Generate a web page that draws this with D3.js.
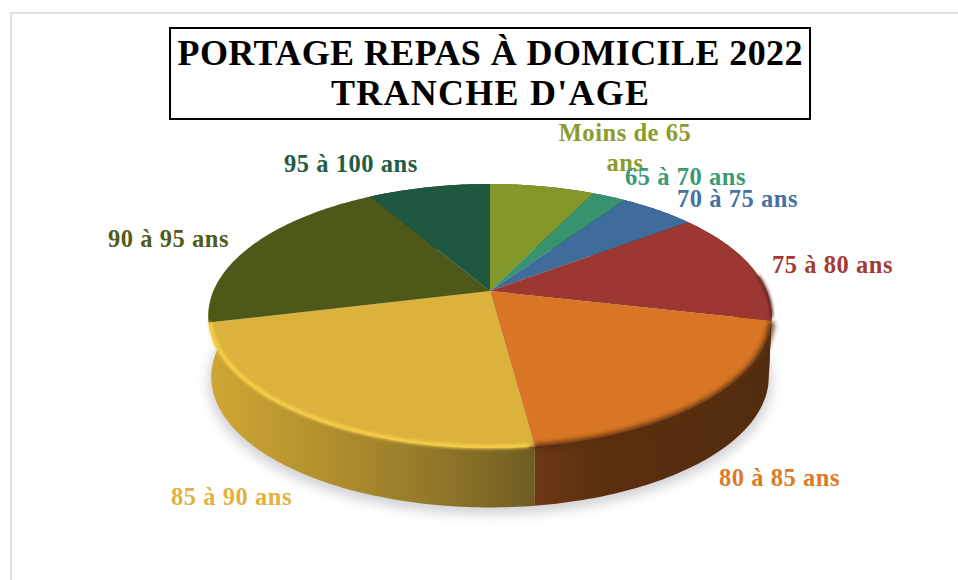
<!DOCTYPE html>
<html>
<head>
<meta charset="utf-8">
<script src="https://cdn.jsdelivr.net/npm/d3@7"></script>
<style>
  html, body { margin: 0; padding: 0; background: #fff; }
  text { font-family: "Liberation Serif", serif; font-weight: bold; }
  .title { font-size: 36px; fill: #000; text-anchor: middle; }
  .label { font-size: 24.5px; letter-spacing: 0.55px; }
</style>
</head>
<body>
<svg id="chart" width="958" height="580"></svg>
<script>
// tranches d'age, parts (%)
var categories = ['Moins de 65 ans', '65 à 70 ans', '70 à 75 ans', '75 à 80 ans', '80 à 85 ans', '85 à 90 ans', '90 à 95 ans', '95 à 100 ans'];
var shares = [7.2, 2.3, 5.2, 13.9, 19.3, 23.3, 20.4, 8.4];
var titleLines = ['PORTAGE REPAS À DOMICILE 2022', "TRANCHE D'AGE"];

var titleWidths = [625, 318];
var sliceColors = ['#84972a', '#36936e', '#3f6d9b', '#9c3831', '#d87625', '#dab23c', '#4e5818', '#1f5840'];
var labelColors = ['#8a9c2d', '#3a9a75', '#4472a1', '#a33b33', '#dc7a28', '#e0b33f', '#525c1a', '#225c44'];
// left x, baseline y of each label
var labelSpots = [[625, 141], [625, 185], [677, 207], [772, 273], [719, 486], [171, 505], [108, 247], [284, 172]];

var svg = d3.select('#chart');
var defs = svg.append('defs');

// perspective of the disc
var cx = 490, cy = 291, A = 276.6, B = 127.2, k = 0.189;
var depth = 61.5, shrink = 0.99;
var rad = Math.PI / 180;

function project(angle, r, drop){
    var u = r * Math.sin(angle),
        v = -r * Math.cos(angle),
        w = 1 - k * v;
    return [cx + A * u / w, cy + B * v / w + drop];
}

function arcPoints(a0, a1, r, drop){
    var n = Math.max(2, Math.ceil((a1 - a0) * 60));
    return d3.range(n + 1).map(function(i){
        return project(a0 + (a1 - a0) * i / n, r, drop);
    });
}

var line = d3.line();
var slices = d3.pie().sort(null)(shares);

// filters
function blur(id, amount){
    defs.append('filter').attr('id', id)
        .attr('x', '-20%').attr('y', '-20%').attr('width', '140%').attr('height', '140%')
        .append('feGaussianBlur').attr('stdDeviation', amount);
}
blur('soft', 6);
blur('bevelLight', 1.5);
blur('bevelDark', 2.4);

// wall gradients, only the yellow and the orange really show
function wallGradient(id, x1, x2, stops){
    var g = defs.append('linearGradient').attr('id', id)
        .attr('gradientUnits', 'userSpaceOnUse')
        .attr('x1', x1).attr('x2', x2).attr('y1', 0).attr('y2', 0);
    stops.forEach(function(s){
        g.append('stop').attr('offset', s[0]).attr('stop-color', s[1]);
    });
}
wallGradient('wall5', 210, 535, [[0, '#cfa733'], [0.35, '#b3902e'], [0.7, '#917729'], [1, '#6f5c23']]);
wallGradient('wall4', 535, 770, [[0, '#6e3813'], [0.3, '#5a2f10'], [1, '#532c0f']]);

// frame of the pasted picture
svg.append('path')
    .attr('d', 'M11,580V13H958')
    .attr('fill', 'none')
    .attr('stroke', '#e0e0e0')
    .attr('stroke-width', 2);

// shadow under the disc
svg.append('path')
    .attr('d', line(arcPoints(0, 2 * Math.PI, 1, depth + 5)) + 'Z')
    .attr('fill', '#d2d2d6')
    .attr('filter', 'url(#soft)');

// walls: the yellow one wraps round the left edge, the olive one stays hidden
svg.selectAll('path.wall')
    .data(slices)
    .enter().append('path')
    .attr('class', 'wall')
    .attr('d', function(d, i){
        var end = i == 5 ? d.endAngle + 15 * rad : d.endAngle;
        if(i == 6) return null;
        var top = arcPoints(d.startAngle, end, 1, 0),
            bottom = arcPoints(d.startAngle, end, shrink, depth).reverse();
        return line(top.concat(bottom)) + 'Z';
    })
    .attr('fill', function(d, i){
        if(i == 4) return 'url(#wall4)';
        if(i == 5) return 'url(#wall5)';
        return d3.color(sliceColors[i]).darker(1.6);
    });

// top of the disc
svg.selectAll('path.slice')
    .data(slices)
    .enter().append('path')
    .attr('class', 'slice')
    .attr('d', function(d){
        return line([[cx, cy]].concat(arcPoints(d.startAngle, d.endAngle, 1, 0))) + 'Z';
    })
    .attr('fill', function(d, i){ return sliceColors[i]; });

// rounded rim, blurred stroke on the front edge
// red
svg.append('path')
    .attr('d', line(arcPoints(slices[3].endAngle - 20 * rad, slices[3].endAngle - 1.5 * rad, 1, 0)))
    .attr('fill', 'none')
    .attr('stroke', '#4a1c1a')
    .attr('stroke-width', 2.5)
    .attr('filter', 'url(#bevelLight)');
// orange
svg.append('path')
    .attr('d', line(arcPoints(slices[4].startAngle, slices[4].endAngle, 1, 1)))
    .attr('fill', 'none')
    .attr('stroke', '#5a2f10')
    .attr('stroke-width', 6)
    .attr('filter', 'url(#bevelDark)');
// yellow
svg.append('path')
    .attr('d', line(arcPoints(slices[5].startAngle + 1 * rad, slices[5].endAngle, 0.995, 0)))
    .attr('fill', 'none')
    .attr('stroke', '#f8d04a')
    .attr('stroke-width', 4)
    .attr('filter', 'url(#bevelLight)');

// title box
svg.append('rect')
    .attr('x', 170).attr('y', 28)
    .attr('width', 640).attr('height', 91)
    .attr('fill', '#fff')
    .attr('stroke', '#000')
    .attr('stroke-width', 2);

svg.selectAll('text.title')
    .data(titleLines)
    .enter().append('text')
    .attr('class', 'title')
    .attr('x', 490)
    .attr('y', function(d, i){ return 65 + i * 40; })
    .attr('textLength', function(d, i){ return titleWidths[i]; })
    .attr('lengthAdjust', 'spacing')
    .text(function(d){ return d; });

// labels, the first one wraps in two lines
var labels = svg.selectAll('text.label')
    .data(categories)
    .enter().append('text')
    .attr('class', 'label')
    .attr('x', function(d, i){ return labelSpots[i][0]; })
    .attr('y', function(d, i){ return labelSpots[i][1]; })
    .attr('fill', function(d, i){ return labelColors[i]; });

labels.each(function(d, i){
    var t = d3.select(this);
    if(i == 0){
        t.attr('text-anchor', 'middle');
        t.append('tspan').attr('x', labelSpots[i][0]).text('Moins de 65');
        t.append('tspan').attr('x', labelSpots[i][0]).attr('dy', 30).text('ans');
    } else {
        t.text(d);
    }
});
</script>
</body>
</html>
